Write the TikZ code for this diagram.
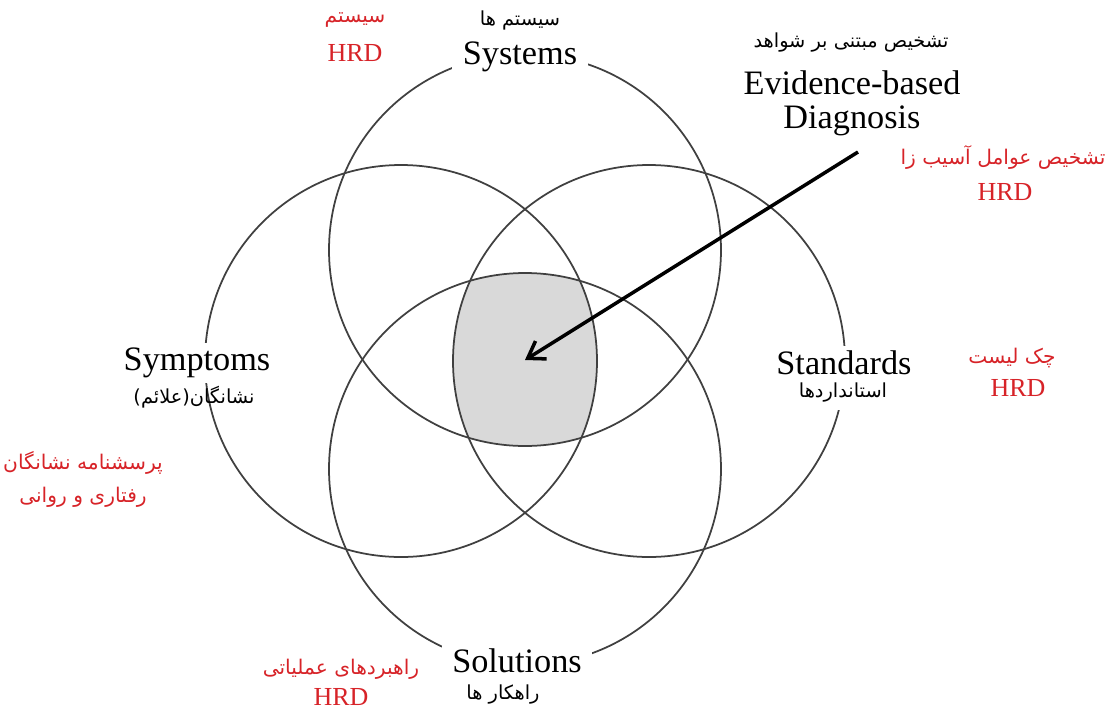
\documentclass[tikz,border=0pt]{standalone}
\usepackage{fontspec}
\setmainfont{Liberation Serif}
\newfontfamily\farsi[Script=Arabic]{DejaVu Sans}
\TeXXeTstate=1
\usetikzlibrary{arrows.meta}
\definecolor{hrdred}{RGB}{215,35,40}

\begin{document}
\begin{tikzpicture}[x=0.02cm,y=-0.02cm,
    ring/.style={draw=black!75,line width=1pt},
    entext/.style={font=\fontsize{19.5}{22}\selectfont,fill=white,inner xsep=1pt,inner ysep=3pt},
    fatext/.style={font=\farsi\fontsize{11}{13}\selectfont,fill=white,inner sep=1pt},
    hrd/.style={text=hrdred,font=\fontsize{14.8}{17}\selectfont,inner sep=1pt},
    fahrd/.style={text=hrdred,font=\farsi\fontsize{11.5}{13}\selectfont,inner sep=1pt}]
    \useasboundingbox (0,0) rectangle (1110,711);

    % centres of the four circles
    \coordinate (sys) at (525,250);
    \coordinate (sym) at (401,361);
    \coordinate (std) at (649,361);
    \coordinate (sol) at (525,469);
    \coordinate (core) at (525,360);

    % common part of all four
    \begin{scope}
        \clip (sys) circle (196);
        \clip (sym) circle (196);
        \clip (std) circle (196);
        \fill[black!15] (sol) circle (196);
    \end{scope}
    \foreach \c in {sys,sym,std,sol}
        \draw[ring] (\c) circle (196);

    % top
    \node[fatext] (sysfa) at (520,20) {\beginR سیستم ها\endR};
    \node[entext,inner xsep=6pt] (sysen) at (520,57) {Systems};
    \node[fahrd] (sysred) at (355,20) {\beginR سیستم\endR};
    \node[hrd] (syshrd) at (355,53) {HRD};

    % evidence-based diagnosis
    \node[fatext] (evfa) at (851,43) {\beginR تشخیص مبتنی بر شواهد\endR};
    \node[entext] (even) at (852,83) {Evidence-based};
    \node[entext] (diag) at (852,121) {Diagnosis};
    \node[fahrd] (evred) at (1003,157) {\beginR تشخیص عوامل آسیب زا\endR};
    \node[hrd] (evhrd) at (1005,192) {HRD};

    % left
    \node[entext] (symen) at (197,363) {Symptoms};
    \node[fatext,fill=none] (symfa) at (194,397) {\beginR نشانگان(علائم)\endR};
    \node[fahrd] (symred) at (83,463) {\beginR پرسشنامه نشانگان\endR};
    \node[fahrd] (symred2) at (83,497) {\beginR رفتاری و روانی\endR};

    % right
    \node[entext] (stden) at (844,363) {Standards};
    \node[fatext,inner ysep=4pt] (stdfa) at (843,393) {\beginR استانداردها\endR};
    \node[fahrd] (stdred) at (1012,358) {\beginR چک لیست\endR};
    \node[hrd] (stdhrd) at (1018,388) {HRD};

    % bottom
    \node[entext,inner xsep=6pt] (solen) at (517,661) {Solutions};
    \node[fatext] (solfa) at (503,695) {\beginR راهکار ها\endR};
    \node[fahrd] (solred) at (341,669) {\beginR راهبردهای عملیاتی\endR};
    \node[hrd] (solhrd) at (341,697) {HRD};

    % arrow into the common part
    \coordinate (evtail) at (858,152);
    \draw[-{Straight Barb[length=9pt,width=12pt]},line width=2pt] (evtail) -- (core);
\end{tikzpicture}
\end{document}
